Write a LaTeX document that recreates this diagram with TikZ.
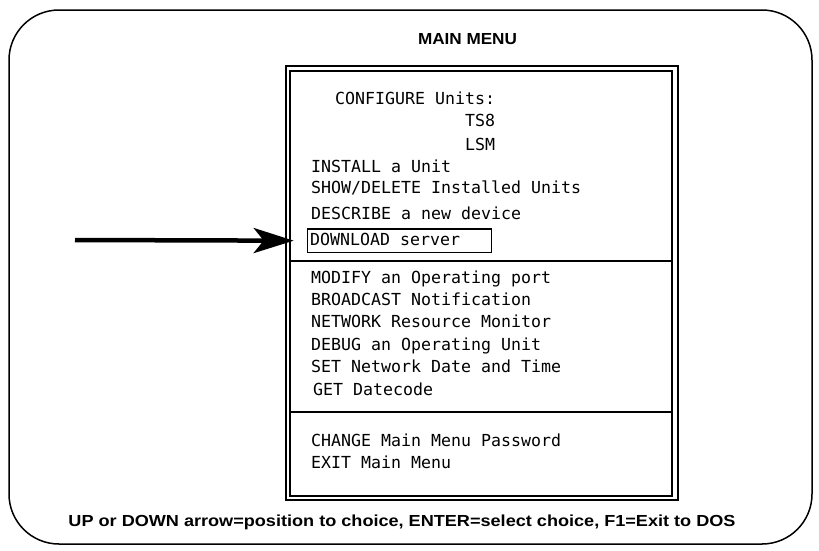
\documentclass[tikz,border=0pt]{standalone}
\usepackage{graphicx}
\usepackage{fontspec}
\setmainfont{Liberation Sans}
\newfontfamily\menufont{DejaVu Sans Mono}
\usetikzlibrary{arrows.meta}
\begin{document}
\begin{tikzpicture}[x=1pt,y=-1pt,
  frame/.style={line width=1.5pt, rounded corners=50pt},
  outerline/.style={line width=2pt},
  innerline/.style={line width=1.3pt},
  divider/.style={line width=1.6pt},
  item/.style={anchor=base west, inner sep=0pt, font=\menufont\fontsize{16.6}{18}\selectfont},
  heading/.style={anchor=base, inner sep=0pt, font=\bfseries\fontsize{16}{18}\selectfont},
  selbox/.style={draw, line width=1.4pt, anchor=north west, inner sep=0pt,
    minimum width=184pt, minimum height=23.4pt},
  pointer/.style={line width=4.5pt, -{Stealth[length=40pt,width=25pt,inset=10pt]}, shorten >=13pt}]
\useasboundingbox (0,0) rectangle (819,550);

% screen outline
\draw[frame] (9,10) rectangle (812,544);

% title
\node[heading] (title) at (467.5,44) {\resizebox{99pt}{\height}{MAIN MENU}};

% menu window (double border) and its dividers
\draw[outerline] (286,66) rectangle (678,500);
\draw[innerline] (290,71) rectangle (672,496);
\draw[divider] (290,261) -- (672,261);
\draw[divider] (290,412) -- (672,412);

% first group
\node[item] (configure) at (335,104) {CONFIGURE Units:};
\node[item] (tse) at (465,126) {TS8};
\node[item] (lsm) at (465,150) {LSM};
\node[item] (install) at (311,172.5) {INSTALL a Unit};
\node[item] (show) at (311,193.5) {SHOW/DELETE Installed Units};
\node[item] (describe) at (311,219.5) {DESCRIBE a new device};
\node[selbox] (dlbox) at (306.7,228.3) {};
\node[item] (download) at (310,245.5) {DOWNLOAD server};

% second group
\node[item] (modify) at (311,283.5) {MODIFY an Operating port};
\node[item] (broadcast) at (311,305.5) {BROADCAST Notification};
\node[item] (network) at (311,327.5) {NETWORK Resource Monitor};
\node[item] (debug) at (311,350.5) {DEBUG an Operating Unit};
\node[item] (setdate) at (311,372.5) {SET Network Date and Time};
\node[item] (getdate) at (313,395.5) {GET Datecode};

% third group
\node[item] (change) at (311,446.5) {CHANGE Main Menu Password};
\node[item] (exit) at (311,468.5) {EXIT Main Menu};

% pointer to the highlighted entry
\coordinate (tail) at (75,240);
\draw[pointer] (tail) -- (dlbox.west);

% key help line
\node[heading] (hint) at (402,526) {\resizebox{667pt}{\height}{UP or DOWN arrow=position to choice, ENTER=select choice, F1=Exit to DOS}};
\end{tikzpicture}
\end{document}
